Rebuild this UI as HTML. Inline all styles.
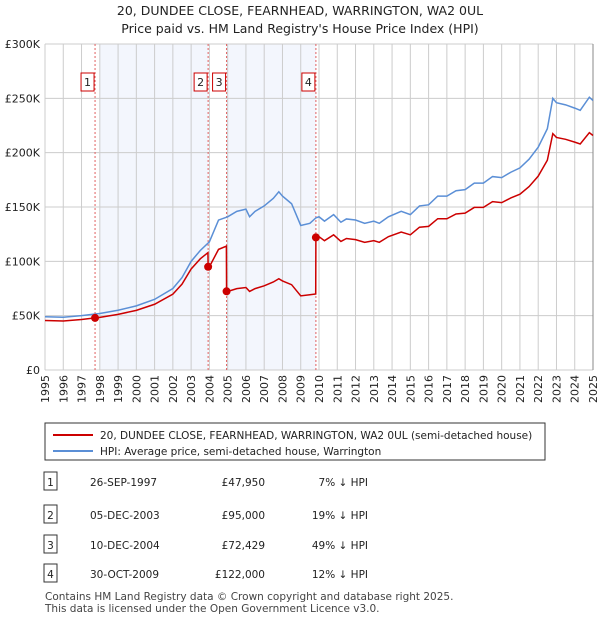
<!DOCTYPE html>
<html><head><meta charset="utf-8"><style>
body{margin:0;background:#fff;font-family:"Liberation Sans","DejaVu Sans",sans-serif;}
svg text{font-family:"DejaVu Sans","Liberation Sans",sans-serif;}
</style></head><body>
<svg id="c" width="600" height="620" xmlns="http://www.w3.org/2000/svg">
<text x="300" y="15" text-anchor="middle" font-size="12.5" fill="#222">20, DUNDEE CLOSE, FEARNHEAD, WARRINGTON, WA2 0UL</text>
<text x="300" y="33" text-anchor="middle" font-size="12.5" fill="#222">Price paid vs. HM Land Registry's House Price Index (HPI)</text>
<g id="plot"></g>
<g id="xlabels" font-size="11" fill="#222" text-anchor="end">
<text transform="translate(49,375) rotate(-90)">1995</text>
<text transform="translate(67.27,375) rotate(-90)">1996</text>
<text transform="translate(85.53,375) rotate(-90)">1997</text>
<text transform="translate(103.8,375) rotate(-90)">1998</text>
<text transform="translate(122.07,375) rotate(-90)">1999</text>
<text transform="translate(140.33,375) rotate(-90)">2000</text>
<text transform="translate(158.6,375) rotate(-90)">2001</text>
<text transform="translate(176.87,375) rotate(-90)">2002</text>
<text transform="translate(195.13,375) rotate(-90)">2003</text>
<text transform="translate(213.4,375) rotate(-90)">2004</text>
<text transform="translate(231.67,375) rotate(-90)">2005</text>
<text transform="translate(249.93,375) rotate(-90)">2006</text>
<text transform="translate(268.2,375) rotate(-90)">2007</text>
<text transform="translate(286.47,375) rotate(-90)">2008</text>
<text transform="translate(304.73,375) rotate(-90)">2009</text>
<text transform="translate(323,375) rotate(-90)">2010</text>
<text transform="translate(341.27,375) rotate(-90)">2011</text>
<text transform="translate(359.53,375) rotate(-90)">2012</text>
<text transform="translate(377.8,375) rotate(-90)">2013</text>
<text transform="translate(396.07,375) rotate(-90)">2014</text>
<text transform="translate(414.33,375) rotate(-90)">2015</text>
<text transform="translate(432.6,375) rotate(-90)">2016</text>
<text transform="translate(450.87,375) rotate(-90)">2017</text>
<text transform="translate(469.13,375) rotate(-90)">2018</text>
<text transform="translate(487.4,375) rotate(-90)">2019</text>
<text transform="translate(505.67,375) rotate(-90)">2020</text>
<text transform="translate(523.93,375) rotate(-90)">2021</text>
<text transform="translate(542.2,375) rotate(-90)">2022</text>
<text transform="translate(560.47,375) rotate(-90)">2023</text>
<text transform="translate(578.73,375) rotate(-90)">2024</text>
<text transform="translate(597,375) rotate(-90)">2025</text>
</g>
<g>
<rect x="45" y="423" width="500" height="37" fill="#fff" stroke="#333" stroke-width="1"/>
<line x1="53" y1="435" x2="93" y2="435" stroke="#cc0000" stroke-width="2"/>
<text x="100" y="439" font-size="10.5" fill="#222">20, DUNDEE CLOSE, FEARNHEAD, WARRINGTON, WA2 0UL (semi-detached house)</text>
<line x1="53" y1="451" x2="93" y2="451" stroke="#5b8fd6" stroke-width="2"/>
<text x="100" y="455" font-size="10.5" fill="#222">HPI: Average price, semi-detached house, Warrington</text>
</g>
<g id="tbl" font-size="10.5" fill="#222"></g>
<text x="45" y="600" font-size="10.5" fill="#444">Contains HM Land Registry data © Crown copyright and database right 2025.</text>
<text x="45" y="612" font-size="10.5" fill="#444">This data is licensed under the Open Government Licence v3.0.</text>
</svg>
<script>
const hpiDates=[1995,1996,1997,1997.75,1998,1999,2000,2001,2002,2002.5,2003,2003.5,2004,2004.5,2005,2005.5,2006,2006.2,2006.5,2007,2007.5,2007.8,2008,2008.5,2009,2009.5,2009.83,2010,2010.3,2010.8,2011.2,2011.5,2012,2012.5,2013,2013.3,2013.8,2014.5,2015,2015.5,2016,2016.5,2017,2017.5,2018,2018.5,2019,2019.5,2020,2020.5,2021,2021.5,2022,2022.5,2022.8,2023,2023.5,2024,2024.3,2024.8,2025];
const hpiValues=[49,48.5,50,51.5,52,55,59,65,75,85,100,110,118,138,141,146,148,141,146,151,158,164,160,153,133,135,140,141,137,143,136,139,138,135,137,135,141,146,143,151,152,160,160,165,166,172,172,178,177,182,186,194,205,222,250,246,244,241,239,251,248];
const priceDates=[1995,1996,1997,1997.74,1998,1999,2000,2001,2002,2002.5,2003,2003.5,2003.92,2003.93,2004,2004.5,2004.93,2004.94,2005,2005.5,2006,2006.2,2006.5,2007,2007.5,2007.8,2008,2008.5,2009,2009.5,2009.82,2009.83,2010,2010.3,2010.8,2011.2,2011.5,2012,2012.5,2013,2013.3,2013.8,2014.5,2015,2015.5,2016,2016.5,2017,2017.5,2018,2018.5,2019,2019.5,2020,2020.5,2021,2021.5,2022,2022.5,2022.8,2023,2023.5,2024,2024.3,2024.8,2025];
const priceValues=[45.6,45.1,46.5,47.95,48.4,51.2,54.9,60.5,69.8,79,93,102.3,108,95,95,111,114,72.4,72.3,74.9,75.9,72.3,74.9,77.5,81,84,82,78.5,68.2,69.3,70,122,122.7,119,124.4,118.3,121,120,117.5,119,117.5,122.7,127,124.4,131.4,132.2,139.2,139.2,143.6,144.4,149.6,149.6,154.9,154,158.3,161.8,168.8,178.4,193,217.5,214,212.3,209.7,208,218.4,215.8];
const saleLabels=["1","2","3","4"];
const saleDates=[1997.74,2003.93,2004.94,2009.83];
const salePrices=[47.95,95,72.429,122];
const saleDateText=["26-SEP-1997","05-DEC-2003","10-DEC-2004","30-OCT-2009"];
const salePriceText=["£47,950","£95,000","£72,429","£122,000"];
const saleHpiText=["7% ↓ HPI","19% ↓ HPI","49% ↓ HPI","12% ↓ HPI"];
const yTicks=[0,50,100,150,200,250,300];
const yTickLabels=["£0","£50K","£100K","£150K","£200K","£250K","£300K"];
const xYears=[1995,1996,1997,1998,1999,2000,2001,2002,2003,2004,2005,2006,2007,2008,2009,2010,2011,2012,2013,2014,2015,2016,2017,2018,2019,2020,2021,2022,2023,2024,2025];

const X0=45,X1=593,Y0=370,Y1=44;
const sx=d=>X0+(d-1995)/30*(X1-X0);
const sy=v=>Y0-v/300*(Y0-Y1);
const NS="http://www.w3.org/2000/svg";
const plot=document.getElementById('plot');
function mk(tag,attrs,parent){const e=document.createElementNS(NS,tag);for(const k in attrs)e.setAttribute(k,attrs[k]);(parent||plot).appendChild(e);return e;}

let r=mk('rect',{x:sx(1998),y:Y1,width:sx(saleDates[1])-sx(1998),height:Y0-Y1,fill:'#eef2fc',opacity:0.7});


r=mk('rect',{x:sx(saleDates[2]),y:Y1,width:sx(saleDates[3])-sx(saleDates[2]),height:Y0-Y1,fill:'#eef2fc',opacity:0.7});



xYears.forEach(y=>{const l=mk('line',{x1:sx(y),x2:sx(y),y1:Y1,y2:Y0,stroke:'#cccccc','stroke-width':1});

});
yTicks.forEach((v,i)=>{const l=mk('line',{x1:X0,x2:X1,y1:sy(v),y2:sy(v),stroke:'#cccccc','stroke-width':1});


const t=mk('text',{x:X0-5,y:sy(v)+4,'text-anchor':'end','font-size':11,fill:'#222'});
t.textContent=yTickLabels[i];

});
let ax=mk('line',{x1:X1,x2:X1,y1:Y1,y2:Y0,stroke:'#888','stroke-width':1});



saleDates.forEach((d,i)=>{const l=mk('line',{x1:sx(d),x2:sx(d),y1:Y1,y2:Y0,stroke:'#e06060','stroke-width':1,'stroke-dasharray':'2,2'});


const b=mk('rect',{x:sx(d)-14,y:73,width:13,height:18,fill:'#fff',stroke:'#cc0000','stroke-width':1});


const t=mk('text',{x:sx(d)-7.5,y:86,'text-anchor':'middle','font-size':11,fill:'#222'});
t.textContent=saleLabels[i];

});

let p=mk('polyline',{points:hpiDates.map((d,i)=>sx(d)+','+sy(hpiValues[i])).join(' '),fill:'none',stroke:'#5b8fd6','stroke-width':1.5});


p=mk('polyline',{points:priceDates.map((d,i)=>sx(d)+','+sy(priceValues[i])).join(' '),fill:'none',stroke:'#cc0000','stroke-width':1.5});


saleDates.forEach((d,i)=>{const c=mk('circle',{cx:sx(d),cy:sy(salePrices[i]),r:4,fill:'#cc0000'});

});

const tbl=document.getElementById('tbl');
const rowY=[482,515,545,574];
saleLabels.forEach((s,i)=>{const y=rowY[i];
const b=mk('rect',{x:44,y:y-10,width:13,height:18,fill:'#fff',stroke:'#333','stroke-width':1},tbl);


const cells=[[50.5,s,'middle'],[90,saleDateText[i],'start'],[265,salePriceText[i],'end'],[368,saleHpiText[i],'end']];
const names=['table-row-number','table-date','table-price','table-hpi-diff'];
cells.forEach((c,j)=>{const t=mk('text',{x:c[0],y:y+4,'text-anchor':c[2]},tbl);
t.textContent=c[1];

});});
</script>
</body></html>
